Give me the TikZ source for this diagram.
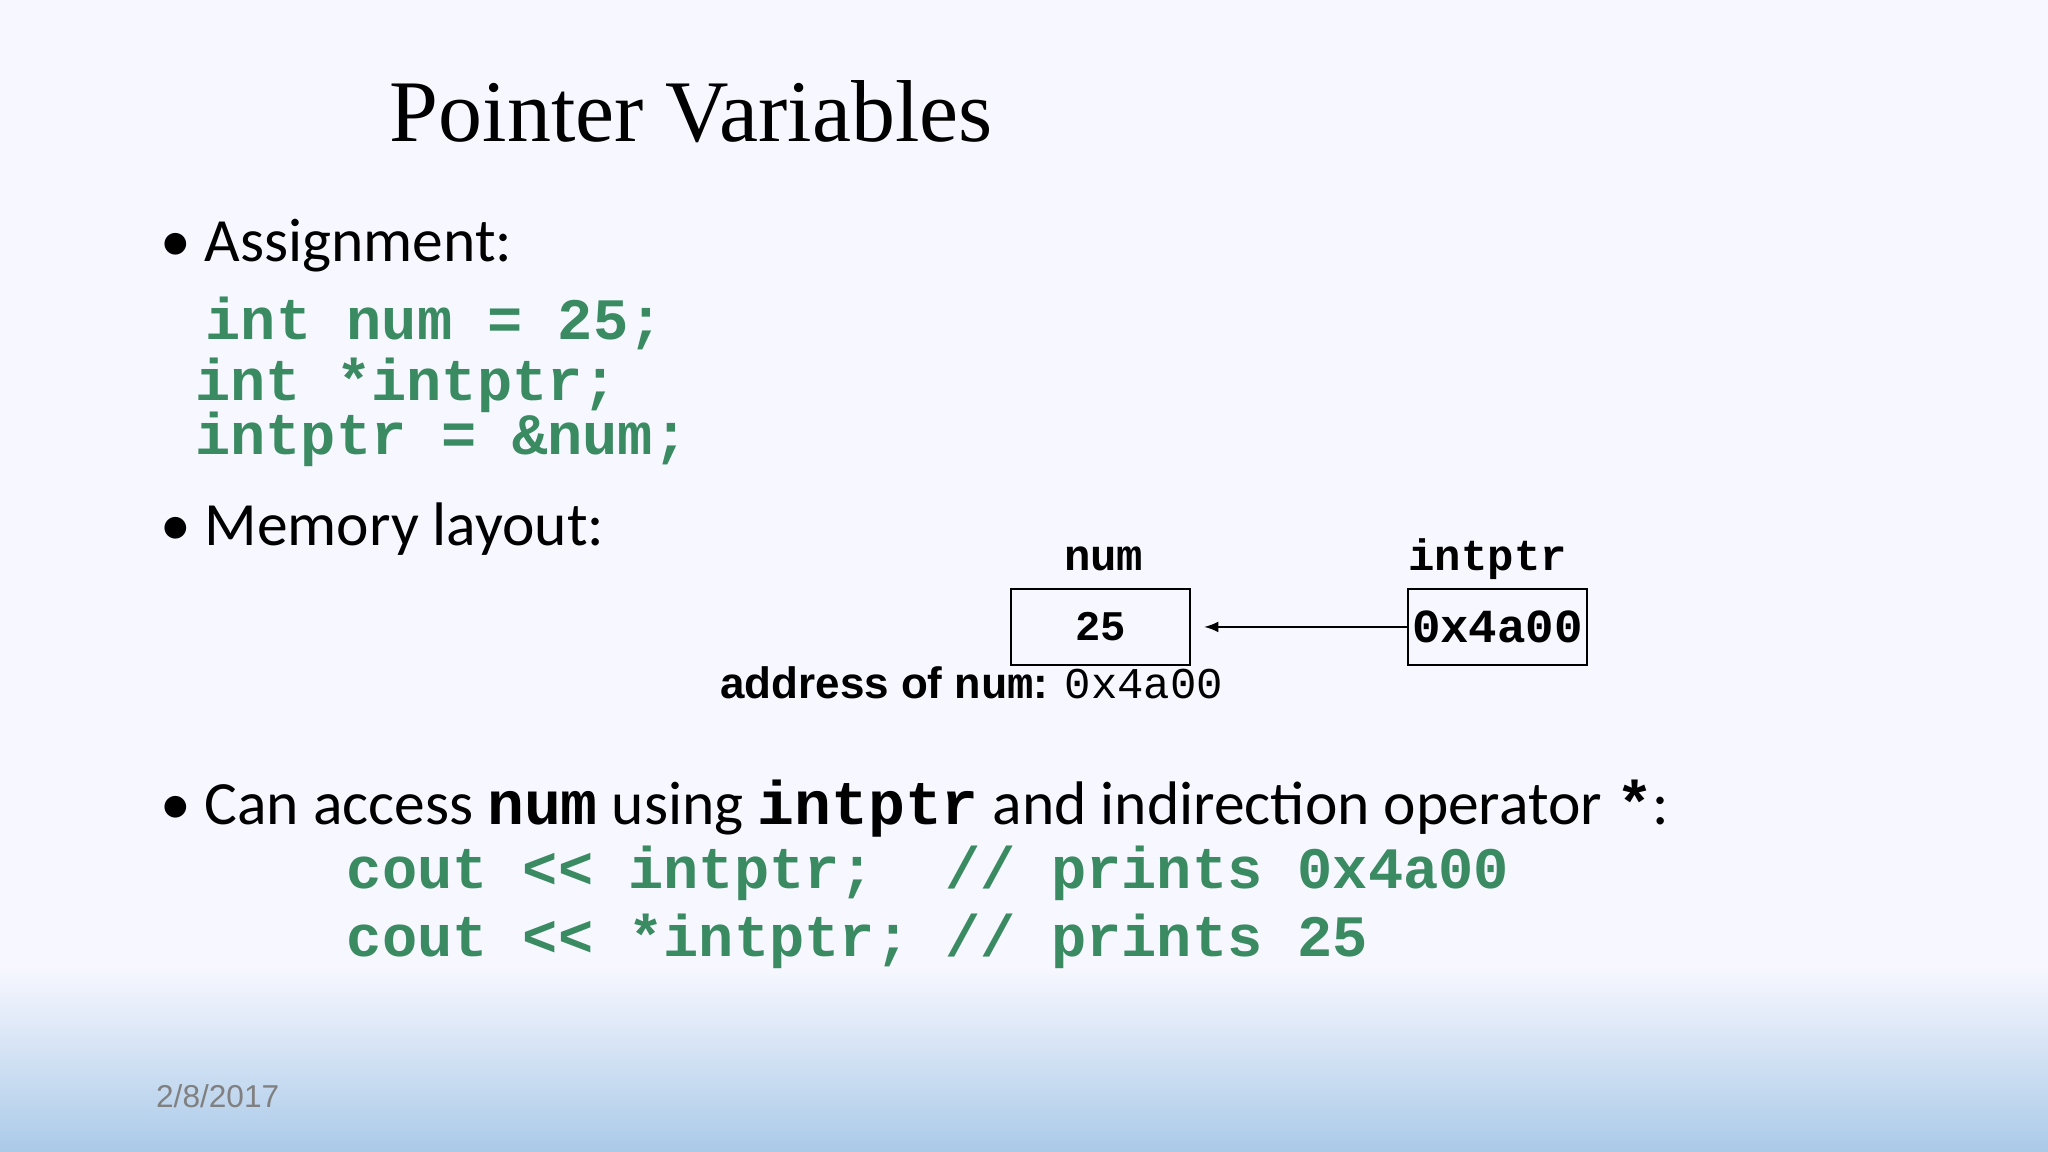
\documentclass[tikz,border=0pt]{standalone}
\usepackage{fontspec}
\setmainfont{Carlito}
\newfontfamily\titlefont{Liberation Serif}
\newfontfamily\codefont{Liberation Mono}
\newfontfamily\arialfont{Liberation Sans}
\definecolor{codegreen}{RGB}{58,138,98}
\definecolor{bgblue}{RGB}{170,202,232}
\begin{document}
\begin{tikzpicture}[x=0.01306cm,y=-0.01306cm,
  txt/.style={anchor=base west,inner sep=0,font=\fontsize{17.5}{20}\selectfont},
  code/.style={anchor=base west,inner sep=0,text=codegreen,font=\fontsize{16.7}{20}\codefont\bfseries},
  box/.style={draw,minimum width=137*0.01306cm,minimum height=58*0.01306cm,inner sep=0}]
\useasboundingbox (0,0) rectangle (1568,882);
\fill[white!97!blue] (0,0) rectangle (1568,740);
\shade[top color=white!97!blue,bottom color=bgblue] (0,740) rectangle (1568,882);
\node[anchor=base west,inner sep=0,font=\fontsize{25}{30}\titlefont] (title) at (298,108) {Pointer Variables};
\node[txt] (b1) at (122,200) {\textbullet\ Assignment:};
\node[code] (c1) at (157,260) {int num = 25;};
\node[code] (c2) at (149,307) {int *intptr;};
\node[code] (c3) at (149,348) {intptr = \&num;};
\node[txt] (b2) at (122,418) {\textbullet\ Memory layout:};
\node[box,font=\fontsize{12}{14}\codefont\bfseries] (num) at (842.5,480) {25};
\node[box,font=\fontsize{13.5}{16}\codefont\bfseries] (ptr) at (1146.5,480) {0x4a00};
\node[anchor=base,inner sep=0,font=\fontsize{12.5}{14}\codefont\bfseries] (ln) at (845,437) {num};
\node[anchor=base,inner sep=0,font=\fontsize{12.5}{14}\codefont\bfseries] (lp) at (1139,437) {intptr};
\coordinate (tip) at (922,480);
\draw[-latex] (ptr.west) -- (tip);
\node[anchor=base west,inner sep=0,font=\fontsize{12.5}{14}\arialfont\bfseries] (addr) at (551,535) {address of {\codefont num}: {\codefont\mdseries 0x4a00}};
\node[txt] (b3) at (122,631) {\textbullet\ Can access {\codefont\bfseries num} using {\codefont\bfseries intptr} and indirection operator {\codefont\bfseries *}:};
\node[code] (c4) at (265,680) {cout << intptr;~ // prints 0x4a00};
\node[code] (c5) at (265,732) {cout << *intptr; // prints 25};
\node[anchor=base west,inner sep=0,text=gray,font=\fontsize{9}{11}\arialfont] (date) at (119,848) {2/8/2017};
\end{tikzpicture}
\end{document}
